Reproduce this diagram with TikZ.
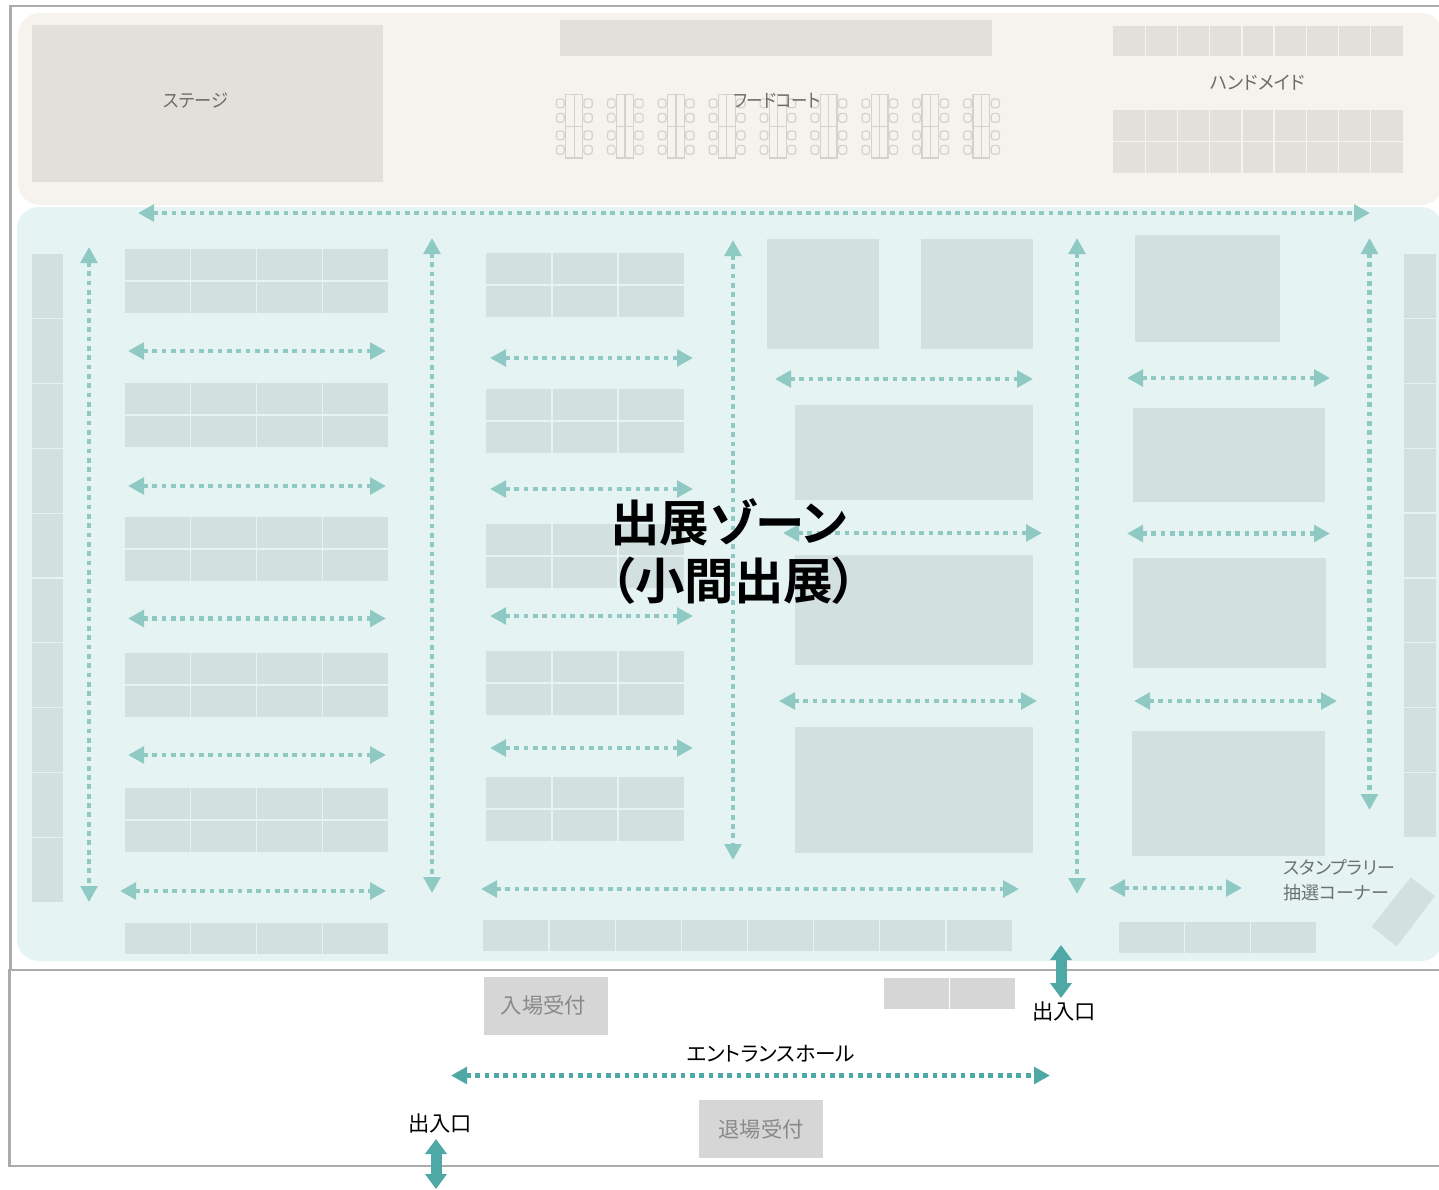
\documentclass[tikz,border=0pt]{standalone}
\usepackage{fontspec}
\usepackage{graphicx}
\setmainfont[RawFeature=+palt,BoldFont={Noto Sans CJK JP Bold}]{Noto Sans CJK JP}
\usetikzlibrary{arrows.meta}
\definecolor{framegray}{HTML}{ABABAB}
\definecolor{zonebeige}{HTML}{F6F3EE}
\definecolor{zoneteal}{HTML}{E5F3F2}
\definecolor{cellbeige}{HTML}{E3E0DB}
\definecolor{cellteal}{HTML}{D2E0DF}
\definecolor{cellgray}{HTML}{D6D6D6}
\definecolor{tableline}{HTML}{D5D1CB}
\definecolor{flowlight}{HTML}{8FC9C4}
\definecolor{flowdark}{HTML}{4DA8A6}
\definecolor{labelgray}{HTML}{6F6C67}
\definecolor{labeltealgray}{HTML}{6A7271}
\definecolor{labelbox}{HTML}{8A8A8A}
\tikzset{
  framebox/.style={draw=framegray,line width=2.4pt},
  flowbase/.style={line width=4.8pt,dash pattern=on 4.8pt off 4.53pt,{Triangle[length=16pt,width=16.5pt]}-{Triangle[length=16pt,width=16.5pt]}},
  flowlt/.style={flowbase,color=flowlight},
  flowdk/.style={flowbase,color=flowdark},
  gate/.style={color=flowdark,line width=11pt,{Triangle[length=15pt,width=21pt]}-{Triangle[length=15pt,width=21pt]}},
  zonelabel/.style={inner sep=0pt,font=\fontsize{18.5}{24}\selectfont},
  chair/.style={draw=tableline,line width=1.2pt,fill=zonebeige},
}
% x0 y0 x1 y1 cols rows fill separator
\newcommand\cellgrid[8]{%
  \fill[#7] (#1,#2) rectangle (#3,#4);
  \foreach \ci in {1,...,#5}{\ifnum\ci<#5\relax
    \pgfmathsetmacro\cx{#1+(#3-#1)*\ci/#5}
    \draw[#8,line width=1.3pt] (\cx,#2) -- (\cx,#4);\fi}
  \foreach \ri in {1,...,#6}{\ifnum\ri<#6\relax
    \pgfmathsetmacro\cy{#2+(#4-#2)*\ri/#6}
    \draw[#8,line width=1.3pt] (#1,\cy) -- (#3,\cy);\fi}
}
\newcommand\flow[6]{%
  \coordinate (#1a) at (#3,#4); \coordinate (#1b) at (#5,#6);
  \draw[#2] (#1a) -- (#1b);
}
\begin{document}
\begin{tikzpicture}[x=1pt,y=-1pt]
\clip (0,0) rectangle (1439,1189);
\fill[white] (0,0) rectangle (1439,1189);
% frames
\draw[framebox] (1450,6) -- (10.5,6) -- (10.5,970);
\draw[framebox] (9.5,970) rectangle (1450,1166);
% zones
\fill[zonebeige,rounded corners=22pt] (18,13) rectangle (1443,205);
\fill[zoneteal,rounded corners=22pt] (17,207) rectangle (1443,961);
% top zone
\fill[cellbeige] (32,25) rectangle (383,182);
\fill[cellbeige] (560,20) rectangle (992,56);
\cellgrid{1113}{26}{1403}{56}{9}{1}{cellbeige}{zonebeige}
\cellgrid{1113}{110}{1403}{172.5}{9}{2}{cellbeige}{zonebeige}
% food court tables
\foreach \t in {0,...,8}{
  \begin{scope}[shift={(565.7+50.9*\t,0)}]
    \draw[tableline,line width=1.2pt] (0,94.5) rectangle (16.8,158);
    \draw[tableline,line width=1.2pt] (8.4,94.5) -- (8.4,158) (0,126.5) -- (16.8,126.5);
    \foreach \yy in {99,113.5,131,145.5}{
      \draw[chair,rounded corners=2.5pt] (-1.5,\yy) -- (-9.2,\yy) -- (-9.2,\yy+8.7) -- (-1.5,\yy+8.7) -- cycle;
      \draw[chair,rounded corners=2.5pt] (18.3,\yy) -- (26.5,\yy) -- (26.5,\yy+8.7) -- (18.3,\yy+8.7) -- cycle;
    }
  \end{scope}
}
% left columns
\cellgrid{32}{254}{63}{902}{1}{10}{cellteal}{zoneteal}
\cellgrid{1404}{254}{1436}{837}{1}{9}{cellteal}{zoneteal}
% left blocks
\foreach \yy in {249,383,517,653,788}{
  \cellgrid{125}{\yy}{388}{\yy+64}{4}{2}{cellteal}{zoneteal}
}
\cellgrid{125}{923}{388}{954}{4}{1}{cellteal}{zoneteal}
% middle blocks
\foreach \yy in {253,389,524,651,777}{
  \cellgrid{486}{\yy}{684}{\yy+64}{3}{2}{cellteal}{zoneteal}
}
\cellgrid{483}{920}{1012}{951}{8}{1}{cellteal}{zoneteal}
% large booths
\fill[cellteal] (767,239) rectangle (879,349);
\fill[cellteal] (921,239) rectangle (1033,349);
\fill[cellteal] (795,405) rectangle (1033,500);
\fill[cellteal] (795,555) rectangle (1033,665);
\fill[cellteal] (795,727) rectangle (1033,853);
\fill[cellteal] (1135,235) rectangle (1280,342);
\fill[cellteal] (1133,408) rectangle (1325,502);
\fill[cellteal] (1133,558) rectangle (1326,668);
\fill[cellteal] (1132,730.5) rectangle (1325,856);
\cellgrid{1119}{922}{1316}{953}{3}{1}{cellteal}{zoneteal}
\fill[cellteal] (1410.7,877.5) -- (1435,896) -- (1396.7,946.5) -- (1371.7,926.5) -- cycle;
% reception
\fill[cellgray] (484,977) rectangle (608,1035);
\fill[cellgray] (699,1100) rectangle (823,1158);
\cellgrid{884}{978}{1015}{1009}{2}{1}{cellgray}{white}
% flows
\flow{ft}{flowlt}{138}{213}{1370}{213}
\flow{v1}{flowlt}{89}{247}{89}{902}
\flow{v2}{flowlt}{432}{238}{432}{893}
\flow{v3}{flowlt}{733}{240}{733}{860}
\flow{v4}{flowlt}{1077}{238}{1077}{894}
\flow{v5}{flowlt}{1369.5}{238}{1369.5}{810}
\flow{la}{flowlt}{128}{351}{386}{351}
\flow{lb}{flowlt}{128}{486}{386}{486}
\flow{lc}{flowlt}{128}{618.5}{386}{618.5}
\flow{ld}{flowlt}{128}{755}{386}{755}
\flow{le}{flowlt}{120}{891}{386}{891}
\flow{ma}{flowlt}{490}{358}{693}{358}
\flow{mb}{flowlt}{490}{489}{693}{489}
\flow{mc}{flowlt}{490}{616}{693}{616}
\flow{md}{flowlt}{490}{748}{693}{748}
\flow{me}{flowlt}{481}{889}{1019}{889}
\flow{ba}{flowlt}{775}{379}{1033}{379}
\flow{bb}{flowlt}{783}{533}{1042}{533}
\flow{bc}{flowlt}{779}{701}{1037}{701}
\flow{ra}{flowlt}{1127}{378}{1330}{378}
\flow{rb}{flowlt}{1127}{533.5}{1330}{533.5}
\flow{rc}{flowlt}{1134}{701}{1337}{701}
\flow{rd}{flowlt}{1109}{888}{1242}{888}
\flow{ha}{flowdk}{451}{1075.5}{1050}{1075.5}
\flow{ga}{gate}{1061}{945}{1061}{998}
\flow{gb}{gate}{436}{1139}{436}{1189}
% labels
\node[zonelabel,text=labelgray] (stage) at (196,100.5) {\scalebox{0.93}[1]{ステージ}};
\node[zonelabel,text=labelgray] (food) at (777,100.5) {\scalebox{0.89}[1]{フードコート}};
\node[zonelabel,text=labelgray] (hand) at (1257.5,82.5) {\scalebox{0.98}[1]{ハンドメイド}};
\node[inner sep=0pt,anchor=west,align=left,text=labeltealgray,font=\fontsize{18}{25}\selectfont] (stamp) at (1283,880.5) {スタンプラリー\\抽選コーナー};
\node[inner sep=0pt,anchor=west,align=left,font=\fontsize{49.5}{58}\selectfont\bfseries] (title) at (610,551.5) {出展ゾーン\\（小間出展）};
\node[inner sep=0pt,text=labelbox,font=\fontsize{21.3}{24}\selectfont] (recv) at (543.5,1005) {入場受付};
\node[inner sep=0pt,text=labelbox,font=\fontsize{21.3}{24}\selectfont] (exit) at (761,1129) {退場受付};
\node[inner sep=0pt,font=\fontsize{21.3}{24}\selectfont] (g1) at (1064,1011.5) {出入口};
\node[inner sep=0pt,font=\fontsize{21.3}{24}\selectfont] (g2) at (440,1123.5) {出入口};
\node[inner sep=0pt,font=\fontsize{20.7}{24}\selectfont] (hall) at (771,1053.5) {エントランスホール};
\end{tikzpicture}
\end{document}
